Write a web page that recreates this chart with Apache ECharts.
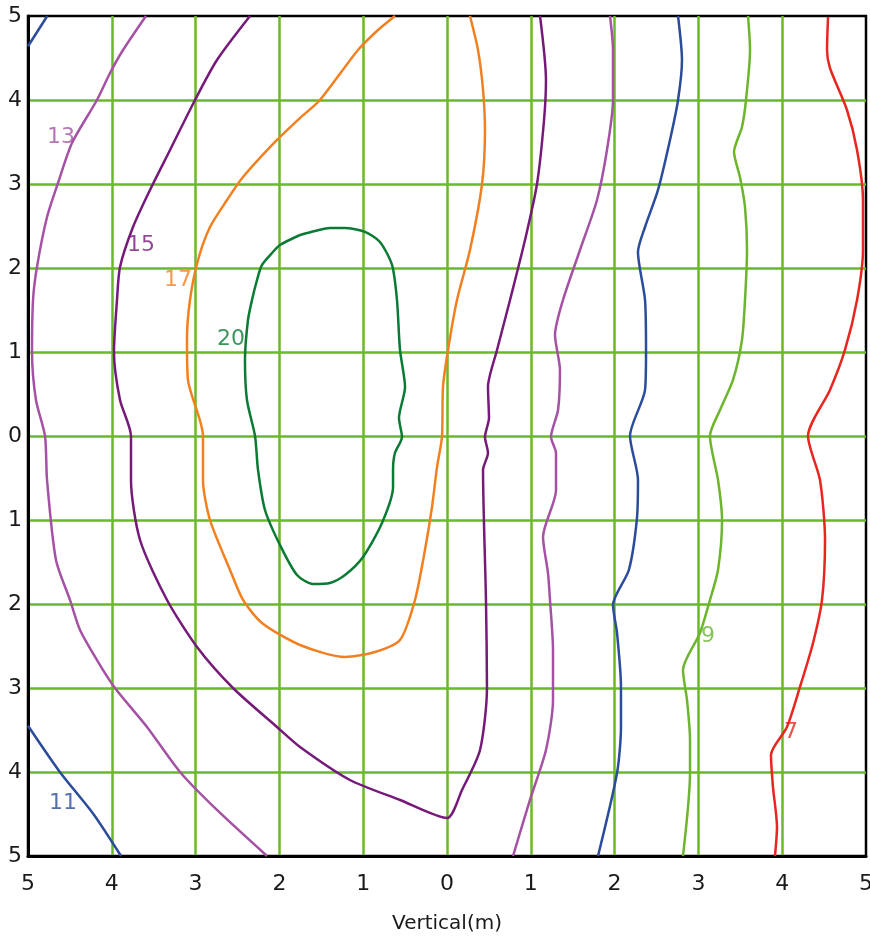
<!DOCTYPE html>
<html>
<head>
<meta charset="utf-8">
<script src="https://cdn.jsdelivr.net/npm/echarts@6/dist/echarts.min.js"></script>
<style>
  html, body { margin: 0; padding: 0; background: #fff; }
  #chart { width: 870px; height: 936px; }
</style>
</head>
<body>
<div id="chart"></div>
<script>
// tick values (labels shown as absolute values)
var ticks = [-5, -4, -3, -2, -1, 0, 1, 2, 3, 4, 5];

// contour lines, [horizontal, vertical] in metres
var c7 = [[4.547,4.988],[4.535,4.595],[4.570,4.381],[4.773,3.881],[4.893,3.405],[4.964,2.810],[4.964,2.214],[4.893,1.619],[4.749,1.024],[4.570,0.548],[4.308,0],[4.451,-0.524],[4.511,-1.238],[4.475,-1.952],[4.368,-2.464],[4.212,-2.988],[4.057,-3.464],[3.866,-3.798],[3.890,-4.179],[3.938,-4.655],[3.914,-5]];
var c9 = [[3.592,5],[3.616,4.595],[3.568,4.0],[3.520,3.679],[3.425,3.381],[3.496,3.083],[3.556,2.726],[3.580,2.214],[3.556,1.619],[3.520,1.143],[3.413,0.667],[3.258,0.310],[3.138,0],[3.234,-0.524],[3.282,-1.0],[3.234,-1.595],[3.138,-1.952],[3.019,-2.345],[2.816,-2.786],[2.864,-3.143],[2.900,-3.619],[2.900,-4.012],[2.816,-5]];
var c11a = [[-5,4.64],[-4.77,5]];
var c11b = [[-5,-3.45],[-4.62,-4.0],[-4.22,-4.5],[-3.89,-5]];
var c11c = [[2.757,5],[2.804,4.476],[2.757,4.0],[2.661,3.524],[2.518,2.929],[2.363,2.488],[2.279,2.19],[2.363,1.619],[2.375,1.0],[2.363,0.548],[2.184,0],[2.279,-0.524],[2.265,-1.0],[2.170,-1.595],[1.981,-2.012],[2.029,-2.345],[2.076,-2.988],[2.076,-3.464],[2.029,-4.012],[1.802,-5]];
var c13a = [[-3.592,5],[-3.866,4.595],[-4.021,4.321],[-4.177,4.0],[-4.475,3.488],[-4.642,3.012],[-4.773,2.607],[-4.893,2.012],[-4.940,1.619],[-4.952,1.0],[-4.905,0.429],[-4.797,0],[-4.773,-0.524],[-4.666,-1.476],[-4.499,-1.952],[-4.379,-2.31],[-4.177,-2.667],[-3.962,-3.0],[-3.580,-3.464],[-3.186,-4.0],[-2.745,-4.452],[-2.148,-5]];
var c13b = [[1.945,5],[1.981,4.595],[1.981,4.0],[1.909,3.405],[1.790,2.810],[1.587,2.214],[1.384,1.619],[1.289,1.202],[1.348,0.786],[1.325,0.310],[1.241,-0.012],[1.301,-0.202],[1.301,-0.643],[1.146,-1.202],[1.205,-1.631],[1.229,-1.952],[1.265,-2.548],[1.265,-3.143],[1.181,-3.738],[0.990,-4.333],[0.788,-5]];
var c15 = [[-2.351,5],[-2.745,4.476],[-3.007,4.0],[-3.305,3.405],[-3.544,2.929],[-3.747,2.488],[-3.902,2.012],[-3.938,1.619],[-3.974,1.0],[-3.902,0.429],[-3.771,0],[-3.771,-0.524],[-3.663,-1.238],[-3.341,-1.952],[-2.983,-2.512],[-2.554,-3.0],[-2.029,-3.464],[-1.754,-3.702],[-1.158,-4.095],[-0.561,-4.333],[0,-4.548],[0.179,-4.214],[0.394,-3.738],[0.477,-3.0],[0.465,-1.952],[0.430,-0.405],[0.489,-0.202],[0.453,-0.012],[0.501,0.214],[0.489,0.583],[0.597,1.024],[0.752,1.619],[0.931,2.333],[1.074,3.0],[1.158,3.762],[1.181,4.238],[1.110,5]];
var c17 = [[-0.621,5],[-0.823,4.833],[-1.062,4.595],[-1.516,4.0],[-1.754,3.786],[-2.029,3.524],[-2.434,3.083],[-2.625,2.810],[-2.828,2.488],[-2.971,2.095],[-3.067,1.619],[-3.103,1.143],[-3.091,0.667],[-2.912,0],[-2.912,-0.524],[-2.828,-1.0],[-2.589,-1.595],[-2.434,-1.952],[-2.208,-2.226],[-1.754,-2.488],[-1.217,-2.631],[-0.859,-2.571],[-0.561,-2.429],[-0.382,-1.952],[-0.263,-1.357],[-0.179,-0.845],[-0.119,-0.369],[-0.060,-0.012],[-0.048,0.583],[0.012,1.024],[0.119,1.619],[0.274,2.214],[0.418,3.0],[0.453,3.643],[0.430,4.119],[0.370,4.595],[0.274,5]];
var c20 = [[-1.754,2.393],[-1.993,2.274],[-2.088,2.179],[-2.208,2.036],[-2.267,1.857],[-2.327,1.619],[-2.375,1.381],[-2.411,0.905],[-2.387,0.429],[-2.291,0],[-2.255,-0.405],[-2.172,-0.881],[-1.993,-1.298],[-1.790,-1.655],[-1.599,-1.762],[-1.396,-1.75],[-1.217,-1.655],[-1.002,-1.440],[-0.776,-1.036],[-0.644,-0.607],[-0.644,-0.405],[-0.621,-0.202],[-0.537,-0.012],[-0.573,0.214],[-0.501,0.583],[-0.561,1.024],[-0.597,1.619],[-0.656,2.036],[-0.800,2.310],[-0.979,2.429],[-1.217,2.476],[-1.396,2.476],[-1.575,2.44],[-1.754,2.393]];

// contour label positions
var labelText = ['13', '15', '17', '20', '11', '9', '7'];
var labelPos = [[-4.606,3.56],[-3.652,2.274],[-3.210,1.857],[-2.578,1.155],[-4.582,-4.37],[3.115,-2.381],[4.105,-3.524]];
var labelColor = ['#a552a5', '#761a7a', '#f28020', '#0b7a35', '#2b4b9b', '#6cb52d', '#e6261f'];

var myChart = echarts.init(document.getElementById('chart'));

function contour(data, color) {
    return {
        type: 'line',
        data: data,
        symbol: 'none',
        smooth: 0.25,
        silent: true,
        lineStyle: { width: 2.5, color: color },
        z: 3
    };
}

var series = [
    contour(c7, '#e6261f'),
    contour(c9, '#6cb52d'),
    contour(c11a, '#2b4b9b'),
    contour(c11b, '#2b4b9b'),
    contour(c11c, '#2b4b9b'),
    contour(c13a, '#a552a5'),
    contour(c13b, '#a552a5'),
    contour(c15, '#761a7a'),
    contour(c17, '#f28020'),
    contour(c20, '#0b7a35')
];

// text labels on the contours
series.push({
    type: 'scatter',
    symbolSize: 1,
    silent: true,
    z: 4,
    itemStyle: { color: 'rgba(0,0,0,0)' },
    data: labelPos.map(function (p, i) {
        return {
            value: p,
            label: {
                show: true,
                position: 'inside',
                formatter: labelText[i],
                color: labelColor[i],
                fontSize: 22,
                fontFamily: 'DejaVu Sans'
            }
        };
    })
});

var fmt = function (v) { return String(Math.abs(v)); };

myChart.setOption({
    animation: false,
    backgroundColor: '#fff',
    grid: {
        left: 28,
        right: 4,
        top: 16,
        bottom: 80,
        outerBoundsMode: 'none',
        containLabel: false,
        show: true,
        borderColor: '#000',
        borderWidth: 2.5
    },
    xAxis: {
        type: 'value',
        min: ticks[0],
        max: ticks[ticks.length - 1],
        interval: 1,
        name: 'Vertical(m)',
        nameLocation: 'middle',
        nameGap: 58,
        nameTextStyle: { fontSize: 20, color: '#1a1a1a', fontFamily: 'DejaVu Sans' },
        axisLine: { onZero: false, lineStyle: { color: '#000', width: 3 } },
        axisTick: { show: false },
        axisLabel: { formatter: fmt, fontSize: 22, color: '#1a1a1a', margin: 17, fontFamily: 'DejaVu Sans' },
        splitLine: { show: true, showMinLine: false, showMaxLine: false, lineStyle: { color: '#6ab82c', width: 2.5 } }
    },
    yAxis: {
        type: 'value',
        min: ticks[0],
        max: ticks[ticks.length - 1],
        interval: 1,
        axisLine: { show: true, onZero: false, lineStyle: { color: '#000', width: 3 } },
        axisTick: { show: false },
        axisLabel: { formatter: fmt, fontSize: 22, color: '#1a1a1a', margin: 6, fontFamily: 'DejaVu Sans' },
        splitLine: { show: true, showMinLine: false, showMaxLine: false, lineStyle: { color: '#6ab82c', width: 2.5 } }
    },
    series: series
});
</script>
</body>
</html>
